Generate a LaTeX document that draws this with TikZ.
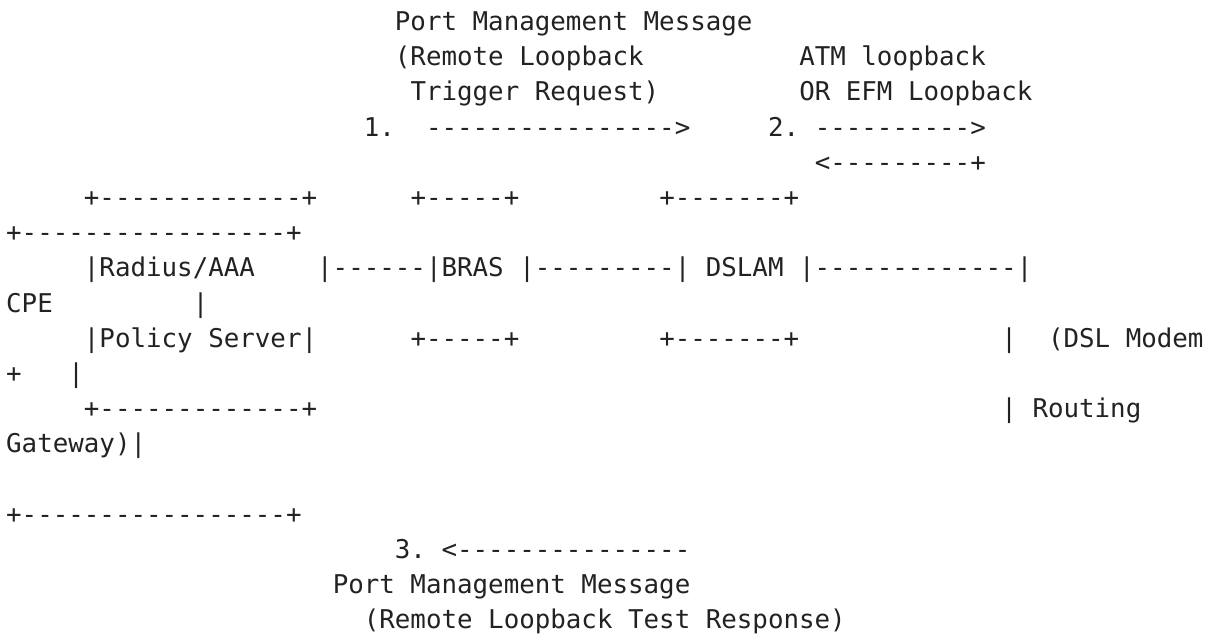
\documentclass[tikz,border=0pt]{standalone}
\usepackage{fontspec}
\setmonofont{DejaVu Sans Mono}
\definecolor{ink}{HTML}{222222}
\frenchspacing
% one character cell: 15.55bp wide, rows 35.2bp apart
\newcommand\asciiseg[4]{%
  \node[seg] (#1) at ({6.2+15.55*#3},{30.5+35.2*#2}) {#4};}
\begin{document}
\begin{tikzpicture}[x=1bp,y=-1bp,
  seg/.style={anchor=base west, inner sep=0pt, outer sep=0pt, text=ink,
    font=\ttfamily\fontsize{25.92pt}{35pt}\selectfont}]
\useasboundingbox (0,0) rectangle (1214,637);
% request message and loopback labels
\asciiseg{reqA}{0}{25}{Port Management Message}
\asciiseg{reqB}{1}{25}{(Remote Loopback}
\asciiseg{atmA}{1}{51}{ATM loopback}
\asciiseg{reqC}{2}{26}{Trigger Request)}
\asciiseg{atmB}{2}{51}{OR EFM Loopback}
\asciiseg{stepA}{3}{23}{1.}
\asciiseg{arrA}{3}{27}{---------------->}
\asciiseg{stepB}{3}{49}{2.}
\asciiseg{arrB}{3}{52}{---------->}
\asciiseg{arrC}{4}{52}{<---------+}
% boxes and links
\asciiseg{topAAA}{5}{5}{+-------------+}
\asciiseg{topBRAS}{5}{26}{+-----+}
\asciiseg{topDSLAM}{5}{42}{+-------+}
\asciiseg{topCPE}{6}{0}{+-----------------+}
\asciiseg{aaaA}{7}{5}{|Radius/AAA}
\asciiseg{links}{7}{20}{|------|BRAS |---------| DSLAM |-------------|}
\asciiseg{cpeA}{8}{0}{CPE}
\asciiseg{cpeB}{8}{12}{|}
\asciiseg{aaaB}{9}{5}{|Policy Server|}
\asciiseg{botBRAS}{9}{26}{+-----+}
\asciiseg{botDSLAM}{9}{42}{+-------+}
\asciiseg{cpeC}{9}{64}{|}
\asciiseg{cpeD}{9}{67}{(DSL Modem}
\asciiseg{cpeE}{10}{0}{+}
\asciiseg{cpeF}{10}{4}{|}
\asciiseg{botAAA}{11}{5}{+-------------+}
\asciiseg{cpeG}{11}{64}{| Routing}
\asciiseg{cpeH}{12}{0}{Gateway)|}
\asciiseg{botCPE}{14}{0}{+-----------------+}
% response message
\asciiseg{stepC}{15}{25}{3.}
\asciiseg{arrD}{15}{28}{<---------------}
\asciiseg{respA}{16}{21}{Port Management Message}
\asciiseg{respB}{17}{23}{(Remote Loopback Test Response)}
\end{tikzpicture}
\end{document}
